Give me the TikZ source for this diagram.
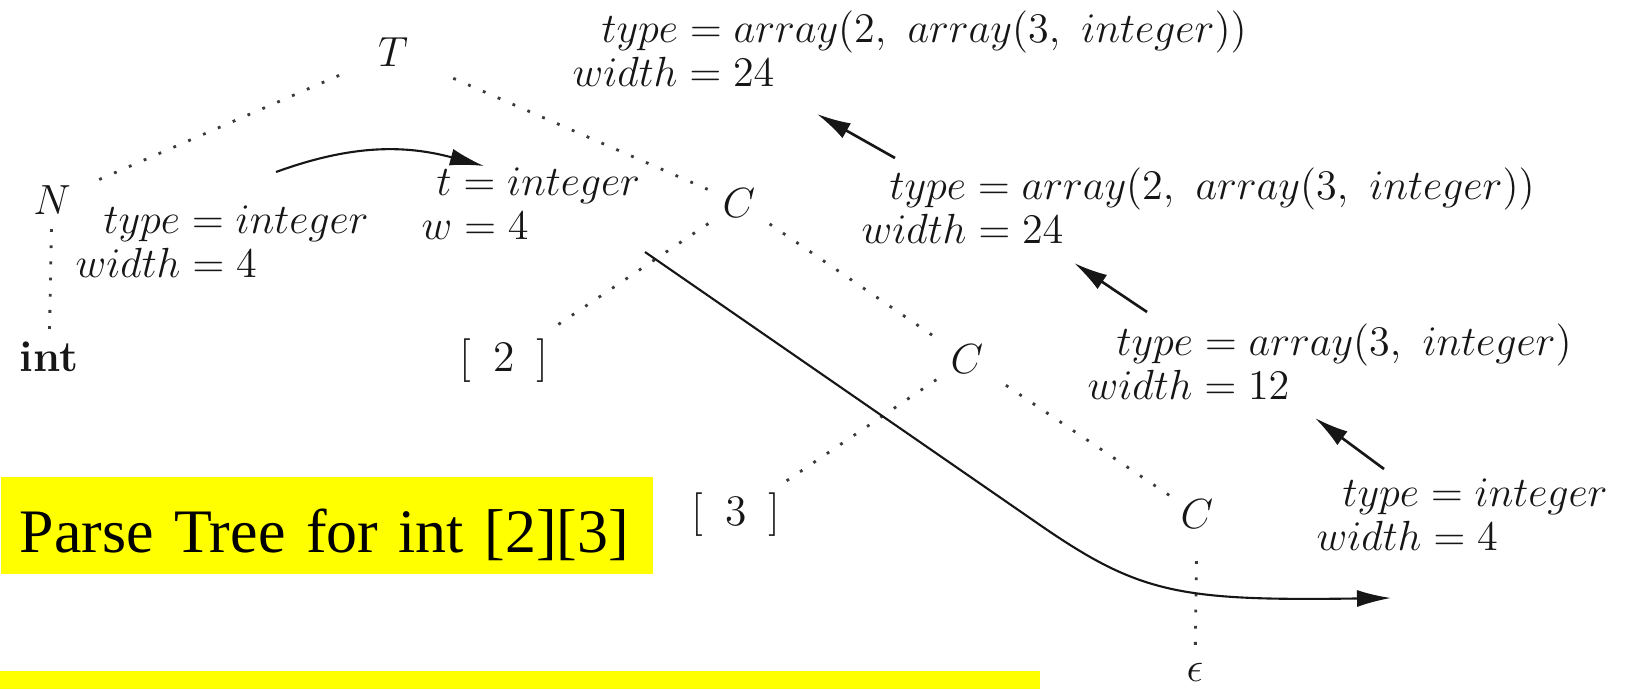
\documentclass[tikz,border=0pt]{standalone}
\usepackage{fontspec}
\usepackage{amsmath}
\usetikzlibrary{arrows.meta,calc,positioning}
\newfontfamily\capfont{Liberation Serif}
\definecolor{ptInk}{HTML}{161616}
\definecolor{ptDot}{HTML}{3A3A3A}
\definecolor{ptYellow}{HTML}{FFFF00}
\tikzset{
 parse/.style={font=\fontsize{12.4}{12.5}\selectfont,text=ptInk,line join=round},
 sym/.style={inner sep=2pt},
 attr/.style={align=left,anchor=base west,inner sep=0pt},
 branch/.style={draw=ptDot,line width=.8pt,dash pattern=on .8pt off 3.8pt,shorten <=.8mm,shorten >=.8mm},
 flow/.style={draw=ptInk,line width=.6pt,-{Latex[length=3.4mm,width=1.7mm]}},
 up/.style={flow,line width=.75pt},
 capbox/.style={fill=ptYellow,font=\fontsize{17.6}{21}\capfont,text=black,anchor=south west,
   text width=6.14cm,inner xsep=1.9mm,inner ysep=0pt,text height=7.5mm,text depth=2.2mm,align=left}
}

\begin{document}
\begin{tikzpicture}[parse,x=1cm,y=1cm]
 \useasboundingbox (0,0) rectangle (16.31,6.89);
 % parse tree
 \node[sym] (T) at (3.93,6.37) {$T$};
 \node[sym] (N) at (0.52,4.89) {$N$};
 \node[sym] (int) at (0.49,3.32) {\textbf{int}};
 \node[sym] (br2) at (5.04,3.28) {[\enspace2\enspace]};
 \node[sym] (C1) at (7.39,4.86) {$C$};
 \node[sym] (C2) at (9.67,3.30) {$C$};
 \node[sym] (br3) at (7.36,1.74) {[\enspace3\enspace]};
 \node[sym] (C3) at (11.97,1.75) {$C$};
 \node[sym] (eps) at (11.95,0.17) {$\epsilon$};
 \draw[branch,shorten <=3.4mm,shorten >=1.9mm] (T) -- (N);
 \draw[branch,shorten <=4.1mm] (T) -- (C1);
 \draw[branch,shorten <=.7mm,shorten >=.4mm] (N) -- (int);
 \draw[branch] (C1) -- (br2);
 \draw[branch,shorten >=.3mm] (C1) -- (C2);
 \draw[branch] (C2) -- (br3);
 \draw[branch,shorten <=1.8mm,shorten >=.3mm] (C2) -- (C3);
 \draw[branch,shorten <=2.5mm] (C3) -- (eps);
 % attribute values
 \node[attr] (annTop) at (5.72,6.03) {\hspace*{2.9mm}$type = array(2,\ array(3,\ integer))$\\$width = 24$};
 \node[attr] (annC1) at (8.61,4.46) {\hspace*{2.8mm}$type = array(2,\ array(3,\ integer))$\\$width = 24$};
 \node[attr] (annC2) at (10.87,2.90) {\hspace*{2.9mm}$type = array(3,\ integer)$\\$width = 12$};
 \node[attr] (annC3) at (13.16,1.39) {\hspace*{2.6mm}$type = integer$\\$width = 4$};
 \node[attr] (annN) at (0.75,4.12) {\hspace*{2.8mm}$type = integer$\\$width = 4$};
 \node[attr] (annT) at (4.21,4.50) {\hspace*{1.5mm}$t = integer$\\$w = 4$};
 % dependency arrows
 \coordinate (inhS) at (2.76,5.17); \coordinate (inhE) at (4.84,5.23);
 \coordinate (synS) at (6.45,4.37); \coordinate (synB) at (10.40,1.64);
 \coordinate (synE) at (13.91,0.91);
 \coordinate (up2S) at (8.95,5.31); \coordinate (up2E) at (8.17,5.75);
 \coordinate (up3S) at (11.47,3.77); \coordinate (up3E) at (10.74,4.26);
 \coordinate (up4S) at (13.84,2.20); \coordinate (up4E) at (13.15,2.71);
 \draw[flow] (inhS) to[out=20,in=165] (inhE);
 \draw[flow] (synS) -- (synB) .. controls (11.40,0.95) and (11.80,0.88) .. (synE);
 \draw[up] (up2S) -- (up2E);
 \draw[up] (up3S) -- (up3E);
 \draw[up] (up4S) -- (up4E);
 % captions
 \node[capbox] (cap) at (0,1.14) {Parse Tree for int [2][3]};
 \path[fill=ptYellow] (0,0) rectangle (10.40,0.18);
\end{tikzpicture}
\end{document}
